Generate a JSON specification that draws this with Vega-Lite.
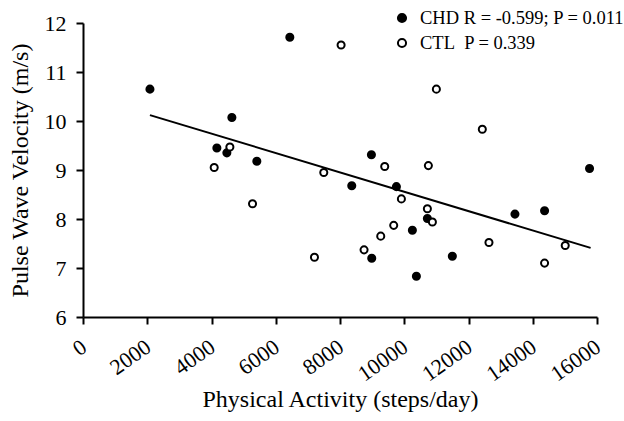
{
  "$schema": "https://vega.github.io/schema/vega-lite/v6.json",
  "width": 514,
  "height": 294,
  "autosize": {"type": "none"},
  "padding": {"left": 83, "top": 23, "right": 27, "bottom": 104},
  "background": "white",
  "config": {
    "view": {"stroke": null},
    "font": "Liberation Serif",
    "axis": {
      "grid": false,
      "domainColor": "black",
      "domainWidth": 2,
      "tickColor": "black",
      "tickWidth": 2,
      "tickSize": 7,
      "labelFont": "Liberation Serif",
      "labelFontSize": 22,
      "labelColor": "black",
      "titleFont": "Liberation Serif",
      "titleFontSize": 24,
      "titleFontWeight": "normal",
      "titleColor": "black"
    }
  },
  "datasets": {
    "points": [
      {"steps": 2084, "pwv": 10.65, "group": "CHD"},
      {"steps": 6438, "pwv": 11.71, "group": "CHD"},
      {"steps": 4634, "pwv": 10.07, "group": "CHD"},
      {"steps": 4167, "pwv": 9.45, "group": "CHD"},
      {"steps": 4478, "pwv": 9.35, "group": "CHD"},
      {"steps": 5411, "pwv": 9.18, "group": "CHD"},
      {"steps": 8978, "pwv": 9.31, "group": "CHD"},
      {"steps": 8366, "pwv": 8.68, "group": "CHD"},
      {"steps": 9756, "pwv": 8.66, "group": "CHD"},
      {"steps": 15768, "pwv": 9.03, "group": "CHD"},
      {"steps": 10720, "pwv": 8.01, "group": "CHD"},
      {"steps": 10253, "pwv": 7.77, "group": "CHD"},
      {"steps": 8988, "pwv": 7.2, "group": "CHD"},
      {"steps": 10378, "pwv": 6.83, "group": "CHD"},
      {"steps": 11497, "pwv": 7.24, "group": "CHD"},
      {"steps": 13446, "pwv": 8.1, "group": "CHD"},
      {"steps": 14368, "pwv": 8.17, "group": "CHD"},
      {"steps": 4084, "pwv": 9.05, "group": "CTL"},
      {"steps": 4572, "pwv": 9.47, "group": "CTL"},
      {"steps": 5277, "pwv": 8.31, "group": "CTL"},
      {"steps": 7205, "pwv": 7.22, "group": "CTL"},
      {"steps": 8034, "pwv": 11.55, "group": "CTL"},
      {"steps": 11000, "pwv": 10.65, "group": "CTL"},
      {"steps": 12430, "pwv": 9.83, "group": "CTL"},
      {"steps": 7495, "pwv": 8.95, "group": "CTL"},
      {"steps": 9392, "pwv": 9.07, "group": "CTL"},
      {"steps": 10751, "pwv": 9.09, "group": "CTL"},
      {"steps": 9911, "pwv": 8.41, "group": "CTL"},
      {"steps": 10720, "pwv": 8.21, "group": "CTL"},
      {"steps": 10876, "pwv": 7.94, "group": "CTL"},
      {"steps": 9672, "pwv": 7.87, "group": "CTL"},
      {"steps": 9268, "pwv": 7.65, "group": "CTL"},
      {"steps": 8749, "pwv": 7.37, "group": "CTL"},
      {"steps": 12637, "pwv": 7.52, "group": "CTL"},
      {"steps": 15011, "pwv": 7.46, "group": "CTL"},
      {"steps": 14368, "pwv": 7.1, "group": "CTL"}
    ],
    "fit": [
      {"steps": 2084, "pwv": 10.12},
      {"steps": 15800, "pwv": 7.41}
    ]
  },
  "encoding": {
    "x": {
      "field": "steps",
      "type": "quantitative",
      "scale": {"domain": [0, 16000], "nice": false, "zero": false},
      "axis": {
        "title": "Physical Activity (steps/day)",
        "values": [0, 2000, 4000, 6000, 8000, 10000, 12000, 14000, 16000],
        "format": "d",
        "labelAngle": -35,
        "labelPadding": 12,
        "labelOffset": -5,
        "titlePadding": 3
      }
    },
    "y": {
      "field": "pwv",
      "type": "quantitative",
      "scale": {"domain": [6, 12], "nice": false, "zero": false},
      "axis": {
        "title": "Pulse Wave Velocity (m/s)",
        "values": [6, 7, 8, 9, 10, 11, 12],
        "labelPadding": 10,
        "titlePadding": 12
      }
    }
  },
  "layer": [
    {
      "data": {"name": "fit"},
      "mark": {"type": "line", "color": "black", "strokeWidth": 2}
    },
    {
      "data": {"name": "points"},
      "mark": {"type": "point", "shape": "circle", "filled": true, "stroke": "black", "strokeWidth": 2, "opacity": 1, "size": 50},
      "encoding": {
        "fill": {
          "field": "group",
          "type": "nominal",
          "scale": {"domain": ["CHD", "CTL"], "range": ["black", "white"]},
          "legend": {
            "orient": "none",
            "legendX": 304,
            "legendY": -20,
            "title": null,
            "padding": 0,
            "symbolType": "M0.29,0A0.29,0.29,0,1,1,-0.29,0A0.29,0.29,0,1,1,0.29,0Z",
            "symbolSize": 784,
            "symbolStrokeColor": "black",
            "symbolStrokeWidth": 2,
            "labelFont": "Liberation Serif",
            "labelFontSize": 18.5,
            "labelColor": "black",
            "labelOffset": 3,
            "labelLimit": 0,
            "rowPadding": -4,
            "labelExpr": "datum.value === 'CHD' ? 'CHD R = -0.599; P = 0.011' : 'CTL\u00a0\u00a0P = 0.339'"
          }
        }
      }
    }
  ]
}
